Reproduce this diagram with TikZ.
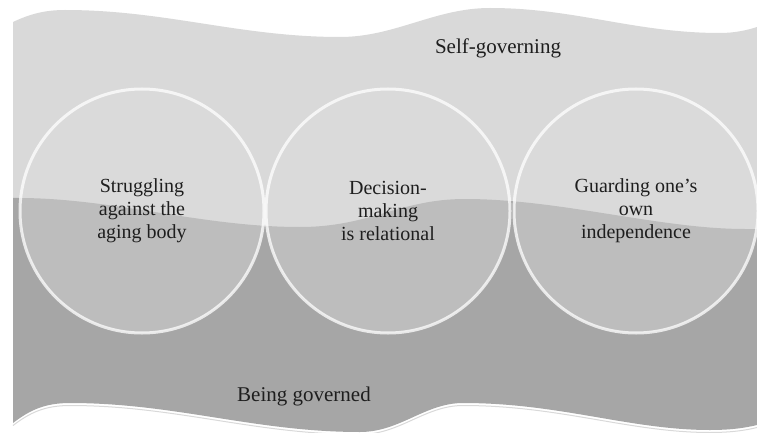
\documentclass[tikz,border=0pt]{standalone}
\usepackage{fontspec}
\setmainfont{Liberation Serif}
\definecolor{lightband}{HTML}{D9D9D9}
\definecolor{darkband}{HTML}{A6A6A6}
\definecolor{circfill}{HTML}{DDDDDD}
\definecolor{txt}{HTML}{1E1E1E}
\tikzset{
  bubble/.style={circle, minimum size=244pt, inner sep=0pt, fill=circfill,
    fill opacity=0.43, draw=white, draw opacity=0.75, line width=3pt,
    text opacity=1, text=txt, align=center, font=\fontsize{20}{23}\selectfont},
  bandlabel/.style={text=txt, font=\fontsize{21}{24}\selectfont, inner sep=0pt, anchor=base},
  glint/.style={draw=gray!30, line width=1pt}
}
\begin{document}
\begin{tikzpicture}[x=1pt,y=-1pt]
\useasboundingbox (0,0) rectangle (757,433);
\fill[white] (0,0) rectangle (757,433);
% upper band
\fill[lightband] (13,22) .. controls (30,14) and (45,10) .. (65,10)
  .. controls (165,10) and (240,37) .. (340,37)
  .. controls (395,37) and (435,8) .. (490,8)
  .. controls (575,8) and (635,33) .. (720,33)
  .. controls (735,33) and (748,30) .. (757,27)
  -- (757,240) -- (13,240) -- cycle;
% lower band
\fill[darkband] (13,198) .. controls (110,197) and (200,227) .. (300,227)
  .. controls (370,227) and (400,199) .. (465,199)
  .. controls (560,199) and (660,229) .. (745,229) -- (757,229)
  -- (757,425) .. controls (745,428) and (730,430) .. (710,430)
  .. controls (630,430) and (560,403) .. (463,403)
  .. controls (425,403) and (400,432) .. (360,432)
  .. controls (255,432) and (175,403) .. (70,403)
  .. controls (45,403) and (30,410) .. (13,423) -- cycle;
\draw[glint, yshift=-2.5pt] (13,423) .. controls (30,410) and (45,403) .. (70,403)
  .. controls (175,403) and (255,432) .. (360,432)
  .. controls (400,432) and (425,403) .. (463,403)
  .. controls (560,403) and (630,430) .. (710,430)
  .. controls (730,430) and (745,428) .. (757,425);
% labels
\node[bandlabel] (self) at (498,53.5) {Self-governing};
\node[bandlabel] (gov) at (304,401) {Being governed};
% circles
\node[bubble] (c1) at (142,211) {Struggling\\against the\\aging body};
\node[bubble] (c2) at (388,211) {Decision-\\making\\is relational};
\node[bubble] (c3) at (636,211) {Guarding one’s\\own\\independence};
\end{tikzpicture}
\end{document}
